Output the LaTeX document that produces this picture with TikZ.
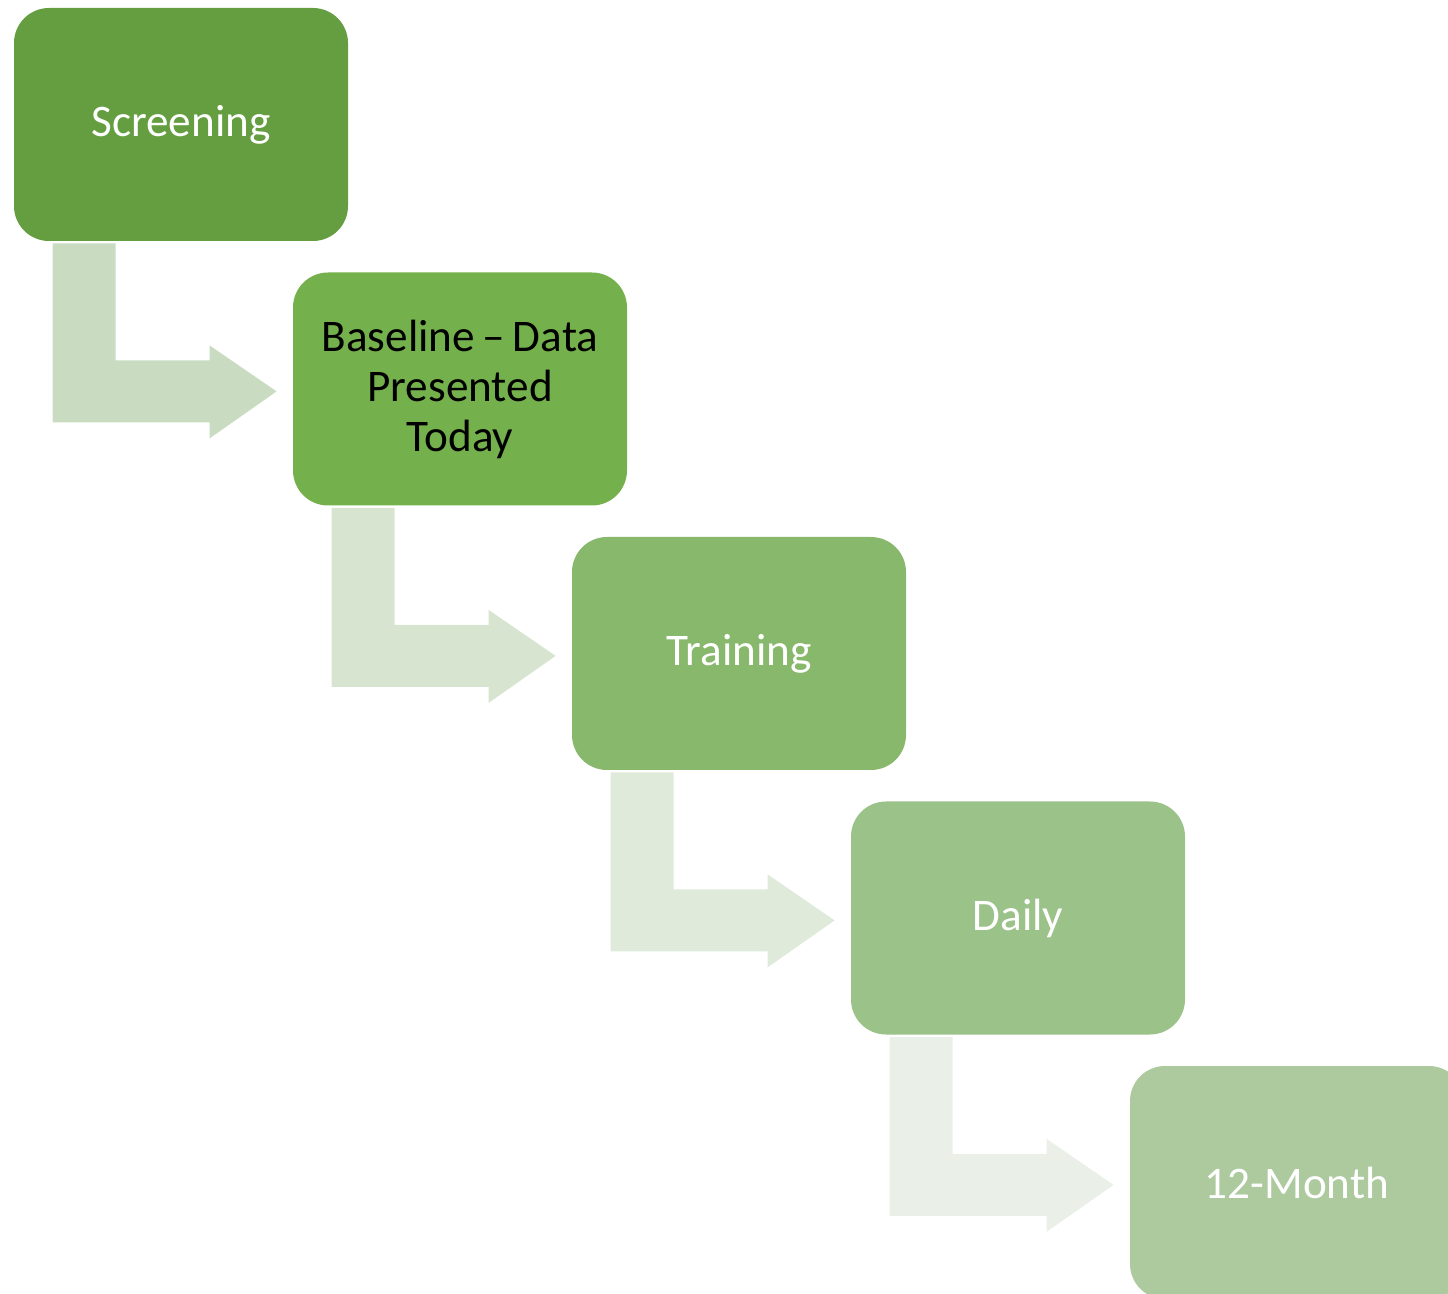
\documentclass[tikz,border=0pt]{standalone}
\usepackage{fontspec}
\setmainfont{Carlito}
\usetikzlibrary{calc}
\definecolor{boxA}{HTML}{649E40}
\definecolor{boxB}{HTML}{74B04C}
\definecolor{boxC}{HTML}{88B86B}
\definecolor{boxD}{HTML}{9BC289}
\definecolor{boxE}{HTML}{ADCA9E}
\definecolor{arrA}{HTML}{C9DCC2}
\definecolor{arrB}{HTML}{D6E4D0}
\definecolor{arrC}{HTML}{DFEADB}
\definecolor{arrD}{HTML}{EAF0E7}
\tikzset{
    phase/.style={rounded corners=17.5pt, minimum width=167pt, minimum height=116.5pt,
        inner sep=0pt, text width=165pt, align=center, font=\fontsize{22.6}{25}\selectfont},
}
\begin{document}
\begin{tikzpicture}[x=0.5pt,y=-0.5pt]
        \clip (0,0) rectangle (1448,1294);
        \foreach \i/\fc/\tc/\txt in {0/boxA/white/Screening,
                                     1/boxB/black/{Baseline\hspace{0.17em}–\hspace{0.17em}Data\\Presented\\Today},
                                     2/boxC/white/Training,
                                     3/boxD/white/Daily,
                                     4/boxE/white/12-Month}
        {
            \node[phase, fill=\fc, text=\tc] (b\i) at (181+279*\i,124.5+264.5*\i) {\txt};
        }
        \foreach \i/\ac in {0/arrA,1/arrB,2/arrC,3/arrD}
        {
            \fill[\ac] ($(b\i.south west)+(39,2)$) -- ++(63,0) -- ++(0,117) -- ++(94,0)
                -- ++(0,-15) -- ++(67,46) -- ++(-67,47) -- ++(0,-16) -- ++(-157,0) -- cycle;
        }
    \end{tikzpicture}
\end{document}
